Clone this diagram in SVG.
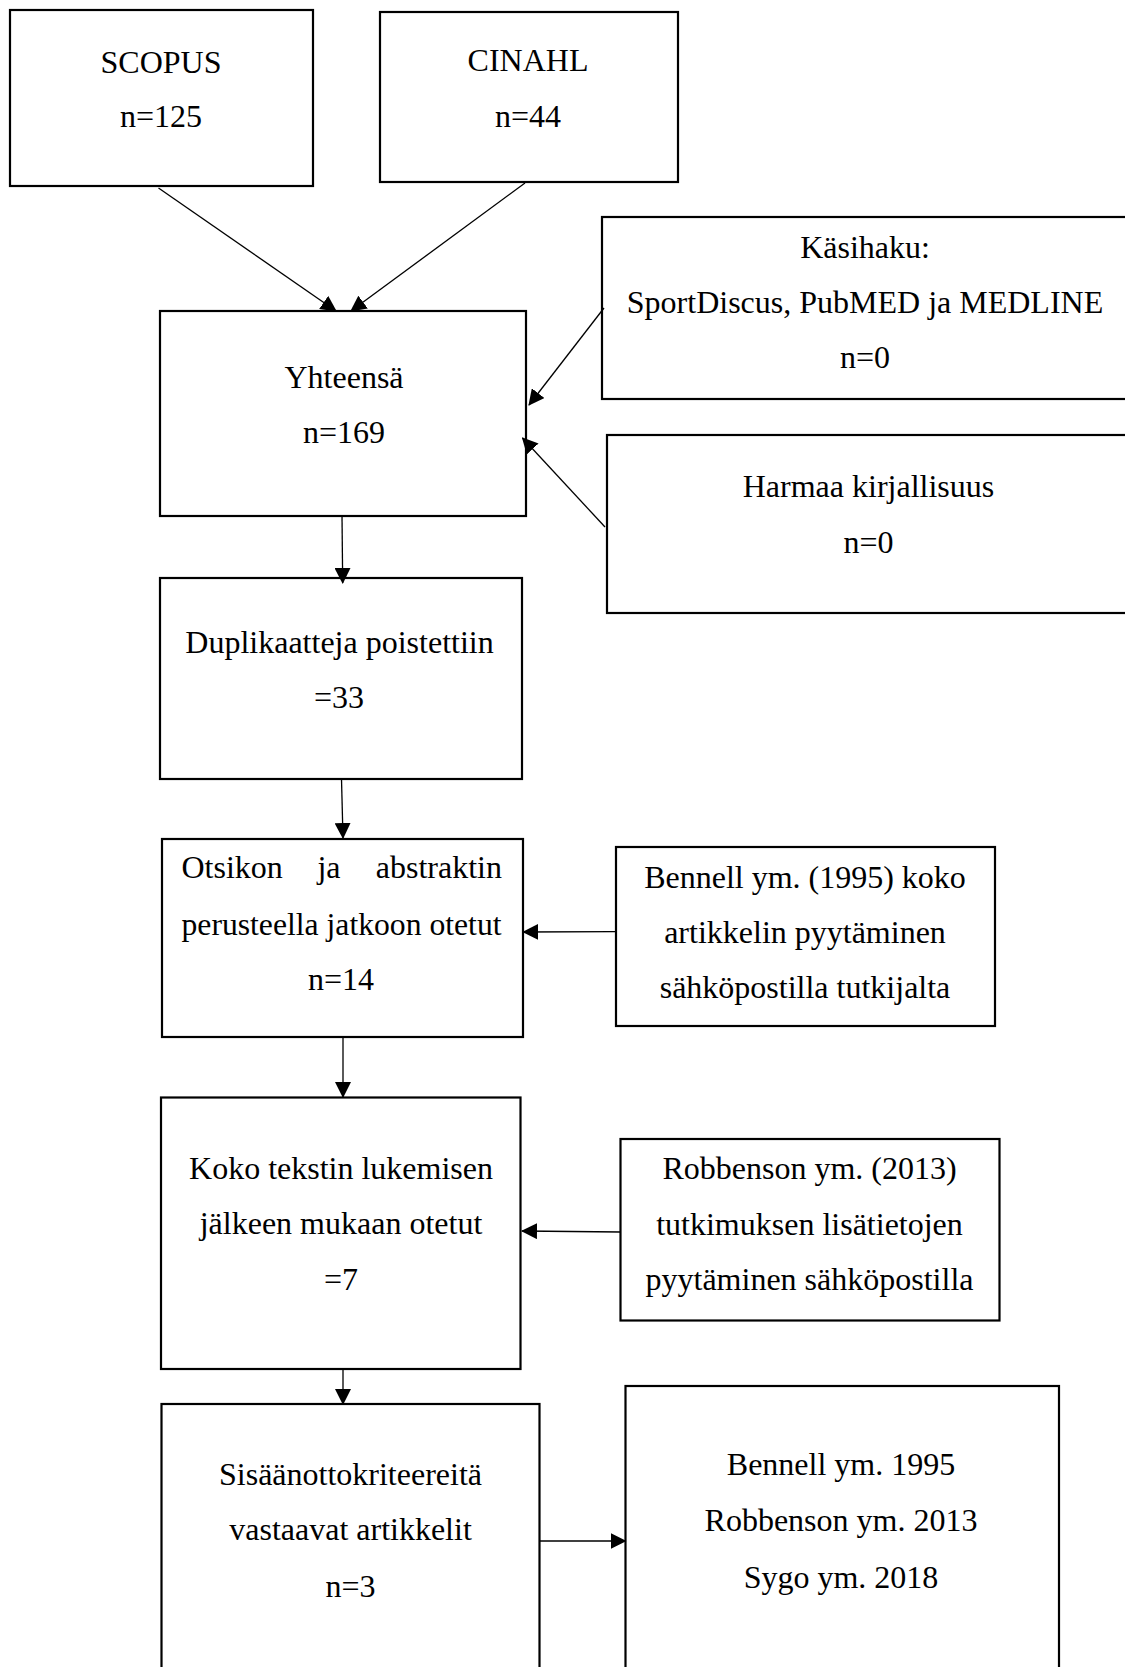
<svg xmlns="http://www.w3.org/2000/svg" width="1125" height="1667" viewBox="0 0 1125 1667">
<style>
.box{fill:#fff;stroke:#000;stroke-width:2.2}
.t{font-family:"Liberation Serif","Times New Roman",serif;font-size:32px;fill:#000;text-anchor:middle}
.c{stroke:#000;stroke-width:1.3;fill:none;marker-end:url(#ah)}
</style>
<defs>
<marker id="ah" markerUnits="userSpaceOnUse" markerWidth="16" markerHeight="16" viewBox="0 0 16 16" refX="15" refY="8" orient="auto">
<path d="M0,0 L16,8 L0,16 z" fill="#000"/>
</marker>
</defs>
<rect width="1125" height="1667" fill="#fff"/>

<g id="scopus">
<rect class="box" x="10" y="10" width="303" height="176"/>
<text class="t" x="161" y="72.5">SCOPUS</text>
<text class="t" x="161" y="126.5">n=125</text>
</g>
<g id="cinahl">
<rect class="box" x="380" y="12" width="298" height="170"/>
<text class="t" x="528" y="70.5">CINAHL</text>
<text class="t" x="528" y="126.5">n=44</text>
</g>
<g id="yhteensa">
<rect class="box" x="160" y="311" width="366" height="205"/>
<text class="t" x="344" y="388">Yhteensä</text>
<text class="t" x="344" y="442.5">n=169</text>
</g>
<g id="kasihaku">
<rect class="box" x="602" y="217" width="600" height="182"/>
<text class="t" x="865" y="258">Käsihaku:</text>
<text class="t" x="865" y="312.5">SportDiscus, PubMED ja MEDLINE</text>
<text class="t" x="865" y="368">n=0</text>
</g>
<g id="harmaa">
<rect class="box" x="607" y="435" width="600" height="178"/>
<text class="t" x="868.5" y="496.5">Harmaa kirjallisuus</text>
<text class="t" x="868.5" y="553">n=0</text>
</g>
<g id="duplikaatteja">
<rect class="box" x="160" y="578" width="362" height="201"/>
<text class="t" x="339.5" y="653">Duplikaatteja poistettiin</text>
<text class="t" x="339" y="708">=33</text>
</g>
<g id="otsikon">
<rect class="box" x="162" y="839" width="361" height="198"/>
<text class="t" x="181.5" y="878" style="text-anchor:start">Otsikon</text>
<text class="t" x="329" y="878">ja</text>
<text class="t" x="502" y="878" style="text-anchor:end">abstraktin</text>
<text class="t" x="341.5" y="935" textLength="320" lengthAdjust="spacingAndGlyphs">perusteella jatkoon otetut</text>
<text class="t" x="341" y="990">n=14</text>
</g>
<g id="bennell">
<rect class="box" x="616" y="847" width="379" height="179"/>
<text class="t" x="805" y="888">Bennell ym. (1995) koko</text>
<text class="t" x="805" y="943">artikkelin pyytäminen</text>
<text class="t" x="805" y="998">sähköpostilla tutkijalta</text>
</g>
<g id="koko">
<rect class="box" x="161" y="1097.5" width="359.5" height="271.5"/>
<text class="t" x="341" y="1179">Koko tekstin lukemisen</text>
<text class="t" x="341" y="1233.5">jälkeen mukaan otetut</text>
<text class="t" x="341" y="1289.5">=7</text>
</g>
<g id="robbenson">
<rect class="box" x="620.5" y="1139" width="379" height="181.5"/>
<text class="t" x="809.5" y="1179">Robbenson ym. (2013)</text>
<text class="t" x="809.5" y="1235">tutkimuksen lisätietojen</text>
<text class="t" x="809.5" y="1290">pyytäminen sähköpostilla</text>
</g>
<g id="sisaan">
<rect class="box" x="161.5" y="1404" width="378" height="300"/>
<text class="t" x="350.5" y="1485">Sisäänottokriteereitä</text>
<text class="t" x="350.5" y="1540">vastaavat artikkelit</text>
<text class="t" x="350.5" y="1596.5">n=3</text>
</g>
<g id="tulos">
<rect class="box" x="625.5" y="1386" width="433.5" height="300"/>
<text class="t" x="841" y="1475">Bennell ym. 1995</text>
<text class="t" x="841" y="1531">Robbenson ym. 2013</text>
<text class="t" x="841" y="1587.5">Sygo ym. 2018</text>
</g>

<g id="connectors">
<line class="c" x1="158.5" y1="188" x2="336" y2="311"/>
<line class="c" x1="525" y1="183" x2="351" y2="311"/>
<line class="c" x1="604" y1="308" x2="529" y2="405"/>
<line class="c" x1="605" y1="527" x2="522.5" y2="438"/>
<line class="c" x1="342" y1="516" x2="342.7" y2="583"/>
<line class="c" x1="341.5" y1="779" x2="343" y2="838"/>
<line class="c" x1="615" y1="931.7" x2="523.3" y2="932"/>
<line class="c" x1="343" y1="1037" x2="343" y2="1097"/>
<line class="c" x1="620.5" y1="1232" x2="522" y2="1231"/>
<line class="c" x1="343" y1="1369" x2="343" y2="1404"/>
<line class="c" x1="539.5" y1="1541" x2="625.5" y2="1541"/>
</g>
</svg>
